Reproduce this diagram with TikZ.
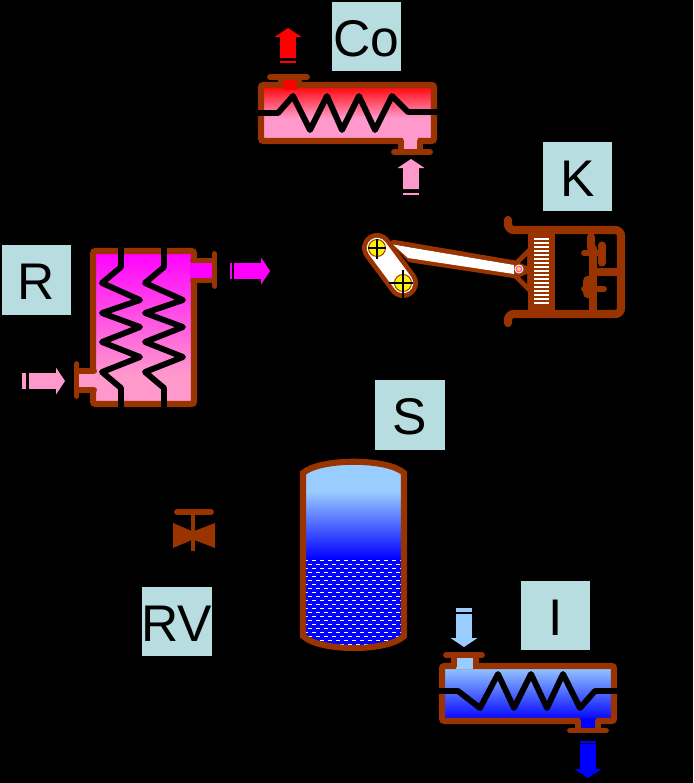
\documentclass[tikz,border=0pt]{standalone}
\usepackage{fontspec}
\setmainfont{Liberation Sans}
\usepackage{xcolor}
\definecolor{wallbrown}{RGB}{153, 51, 0}
\definecolor{labelblock}{RGB}{184, 221, 224}
\definecolor{hotpink}{RGB}{255, 153, 204}
\definecolor{coldblue}{RGB}{153, 204, 255}
\definecolor{pureviolet}{RGB}{255, 0, 255}
\definecolor{purered}{RGB}{255, 0, 0}
\definecolor{pureblue}{RGB}{0, 0, 255}
\tikzset{
	labelbox/.style={fill=labelblock, text=black, minimum size=59.5pt, inner sep=0pt, text height=33.5pt, text depth=0pt, font=\fontsize{44}{50}\selectfont},
	wall/.style={draw=wallbrown, line width=5.2pt, rounded corners=2pt},
	stub/.style={draw=wallbrown, line width=5pt, line cap=round},
	coil/.style={draw=black, line width=5pt, line join=round},
	pics/blockarrow/.style n args={3}{code={
		\fill[#1] (0,0) -- (13.5,9) -- (7.8,9) -- (7.8,#2) -- (-7.8,#2) -- (-7.8,9) -- (-13.5,9) -- cycle;
		\foreach \strip in {#3} {
			\fill[#1] (-7.8,\strip) rectangle (7.8,\strip+1.6);
		}
	}}
}
\begin{document}
\begin{tikzpicture}[x=0.03cm, y=-0.03cm]
			\fill[black] (0,0) rectangle (693,783);
			\useasboundingbox (0,0) rectangle (693,783);
			
			% Labels
			\node[labelbox] (labelCo) at (366.5, 36.5) {Co};
			\node[labelbox] (labelK) at (577.5, 176.5) {K};
			\node[labelbox] (labelR) at (36.5, 280) {R};
			\node[labelbox] (labelS) at (410, 415) {S};
			\node[labelbox] (labelRV) at (177, 621.5) {RV};
			\node[labelbox] (labelI) at (555.5, 615.5) {I};
			
			% Condenser
			\fill[top color=purered, bottom color=hotpink] (261,85) rectangle (434,118);
			\fill[hotpink] (261,117.5) rectangle (434,141);
			\draw[wall] (261,85) rectangle (434,141);
			\fill[purered] (283,78) rectangle (297,90);
			\fill[hotpink] (403,136) rectangle (418,150);
			\draw[stub] (281,78) -- (281,85);
			\draw[stub] (299,78) -- (299,85);
			\draw[stub] (270,77) -- (307,77);
			\draw[stub] (401,141) -- (401,151);
			\draw[stub] (420,141) -- (420,151);
			\draw[stub] (394,152) -- (430,152);
			\draw[coil] (258,113) -- (278,113) -- (293,96) -- (310,130) -- (327,96) -- (342,130) -- (359,96) -- (375,130) -- (392,96) -- (408,112) -- (437,112);
			\pic at (288,28) {blockarrow={purered}{30}{33}};
			\pic at (411,159) {blockarrow={hotpink}{30}{34}};
			
			% Reboiler
			\fill[top color=pureviolet, bottom color=hotpink] (93,251) rectangle (194,375);
			\fill[hotpink] (93,374.5) rectangle (194,404);
			\draw[wall] (93,251) rectangle (194,404);
			\fill[pureviolet] (190,263) rectangle (213,278);
			\fill[hotpink] (77,373) rectangle (98,388);
			\draw[stub] (193,260.5) -- (212,260.5);
			\draw[stub] (193,280.5) -- (212,280.5);
			\draw[stub] (214.5,254) -- (214.5,286);
			\draw[stub] (78,371) -- (94,371);
			\draw[stub] (78,390) -- (94,390);
			\draw[stub] (76.5,364) -- (76.5,396);
			\draw[coil] (121,248) -- (121,267) -- (102,283) -- (140,300) -- (102,313) -- (140,327) -- (102,342) -- (140,357) -- (102,372) -- (121,388) -- (121,407);
			\draw[coil] (164,248) -- (164,267) -- (145,283) -- (183,300) -- (145,313) -- (183,327) -- (145,342) -- (183,357) -- (145,372) -- (164,388) -- (164,407);
			\pic[rotate=-90] at (270,271) {blockarrow={pureviolet}{36}{38}};
			\pic[rotate=-90] at (65,381) {blockarrow={hotpink}{36}{39,41.5}};
			
			% Compressor
			\draw[wall, line width=7pt, rounded corners=5pt, line cap=round] (508,220) -- (508,230) -- (621,230) -- (621,314) -- (508,314) -- (508,323);
			\fill[wallbrown] (528,230) rectangle (555,314);
			\fill[white] (534,238) rectangle (549,304);
			\foreach \slit in {241,245,...,303} {
				\draw[wallbrown, line width=1.1pt] (534,\slit) -- (549,\slit);
			}
			\fill[wallbrown] (528,248) -- (513,263) -- (513,277) -- (528,292) -- cycle;
			\fill[black] (527,256) -- (520,263) -- (527,266) -- cycle;
			\fill[black] (527,274) -- (520,277) -- (527,284) -- cycle;
			\draw[stub, line width=7pt] (591,237) -- (591,248);
			\draw[stub, line width=6pt] (593,248) -- (593,272);
			\draw[stub] (584,253) -- (598,253);
			\draw[stub, line width=6pt] (602,245) -- (602,263);
			\draw[wallbrown, line width=7pt] (592,272) -- (617,272);
			\draw[stub, line width=9pt] (588,281) -- (588,293);
			\draw[stub, line width=6pt] (593,272) -- (593,310);
			\draw[stub] (584,289) -- (604,289);
			
			% Connecting rod and crank
			\draw[draw=wallbrown, line width=4pt, line join=round] (393,242) -- (516,263) -- (516,276) -- (410,260) -- cycle;
			\draw[wallbrown, line width=25.5pt, line cap=round] (377,248) -- (403,283);
			\draw[white, line width=17.5pt, line cap=round] (377,248) -- (403,283);
			\fill[white] (393,244.5) -- (514,265) -- (514,274) -- (408,258) -- cycle;
			\fill[white] (519,269) circle (4.5);
			\fill[pureviolet!50!hotpink] (519,269) circle (3.5);
			\fill[yellow] (519,269) circle (2);
			\foreach \pin in {(377,248), (403,283)} {
				\filldraw[fill=yellow, draw=wallbrown, line width=0.8pt] \pin circle (8.5);
			}
			\draw[black, line width=1.6pt] (368,248) -- (386,248);
			\draw[black, line width=1.6pt] (377,239) -- (377,259);
			\draw[black, line width=1.6pt] (389,283) -- (413,283);
			\draw[black, line width=1.6pt] (403,270) -- (403,298);
			
			% Storage tank
			\begin{scope}
				\clip (303,473) .. controls (320,458) and (388,458) .. (404,473) -- (404,636) .. controls (388,652) and (320,652) .. (303,636) -- cycle;
				\fill[coldblue] (300,458) rectangle (407,492);
				\fill[top color=coldblue, bottom color=pureblue] (300,491.5) rectangle (407,559);
				\fill[pureblue] (300,558.5) rectangle (407,652);
				\foreach \row in {560,568,...,648} {
					\draw[white, line width=0.55pt, dash pattern=on 3.4pt off 3.4pt] (304,\row) -- (404,\row);
				}
				\foreach \row in {564,572,...,648} {
					\draw[white, line width=0.55pt, dash pattern=on 3.4pt off 3.4pt, dash phase=3.4pt] (304,\row) -- (404,\row);
				}
			\end{scope}
			\draw[wall, rounded corners=0pt] (303,473) .. controls (320,458) and (388,458) .. (404,473) -- (404,636) .. controls (388,652) and (320,652) .. (303,636) -- cycle;
			
			% Expansion valve
			\fill[wallbrown] (173,523) -- (193,531.5) -- (215,523) -- (215,548) -- (193,539.5) -- (173,548) -- cycle;
			\draw[wallbrown, line width=4pt] (193,512) -- (193,551);
			\draw[stub] (177,512) -- (211,512);
			
			% Evaporator
			\fill[top color=coldblue, bottom color=pureblue] (442,666) rectangle (614,721);
			\draw[wall] (442,666) rectangle (614,721);
			\fill[coldblue] (456,656) rectangle (473,669);
			\fill[pureblue] (580,718) rectangle (596,730);
			\draw[stub] (454,657) -- (454,666);
			\draw[stub] (476,657) -- (476,666);
			\draw[stub] (446,655) -- (482,655);
			\draw[stub] (578,721) -- (578,730);
			\draw[stub] (598,721) -- (598,730);
			\draw[stub] (570,730.5) -- (606,730.5);
			\draw[coil] (439,691) -- (458,691) -- (480,708) -- (498,674) -- (514,708) -- (531,674) -- (547,708) -- (563,674) -- (580,708) -- (595,691) -- (617,691);
			\pic[rotate=180] at (464,647) {blockarrow={coldblue}{33}{35,37.5}};
			\pic[rotate=180] at (588,778) {blockarrow={pureblue}{34}{35}};
		\end{tikzpicture}
\end{document}
